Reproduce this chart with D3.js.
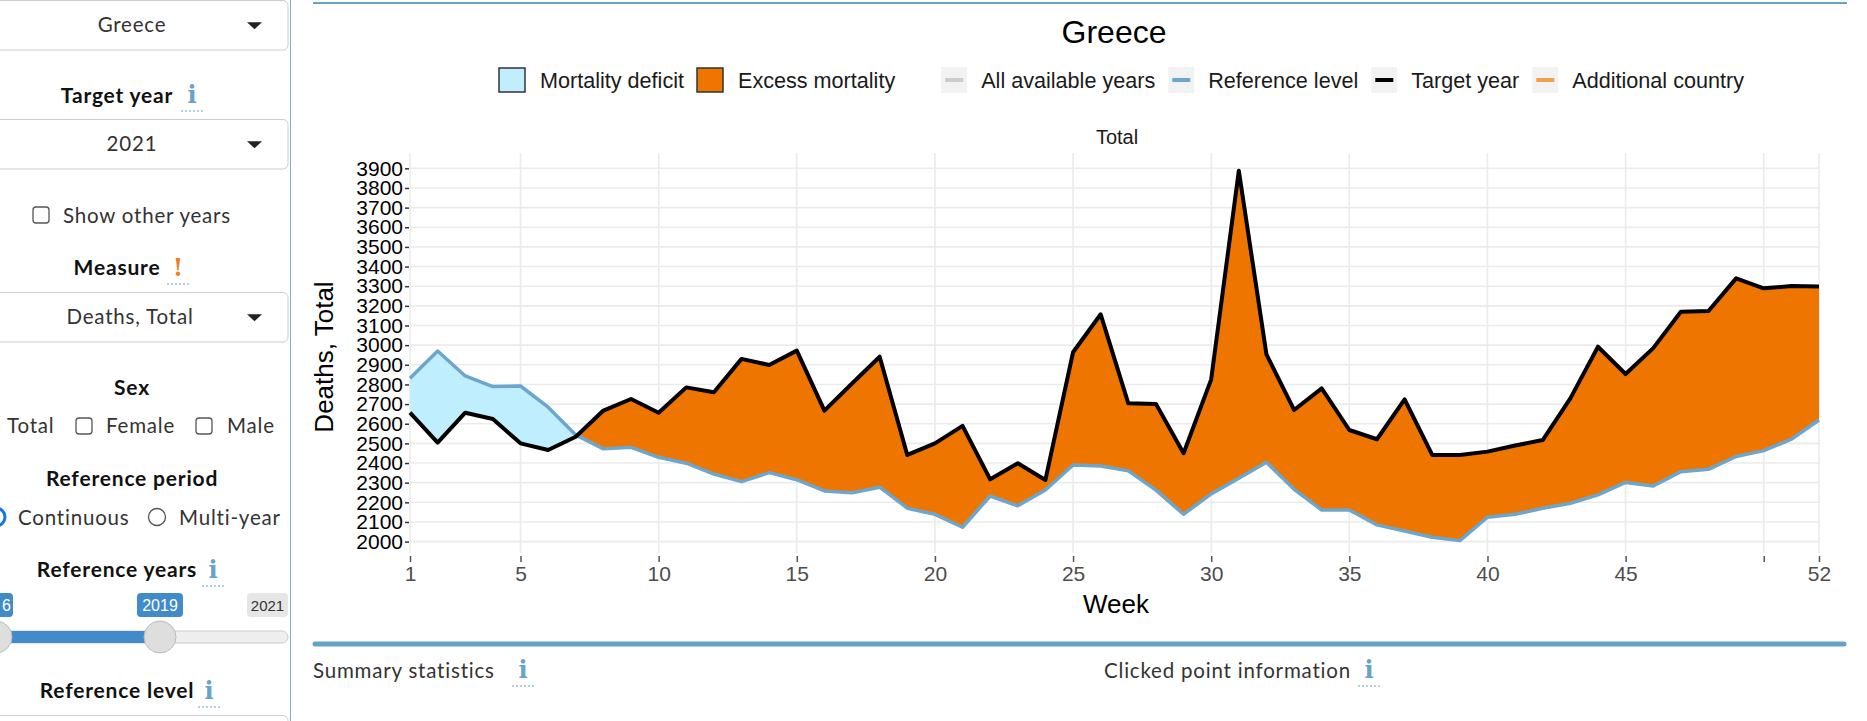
<!DOCTYPE html>
<html>
<head>
<meta charset="utf-8">
<script src="https://cdn.jsdelivr.net/npm/d3@7"></script>
<style>
  body { margin: 0; background: #fff; overflow: hidden; }
  svg text { font-family: "Liberation Sans", Arial, sans-serif; }
  svg text.ui { font-family: Lato, "Noto Sans", sans-serif; letter-spacing: 0.8px; }
  svg text.icon { font-family: "DejaVu Serif", serif; font-weight: bold; }
</style>
</head>
<body>
<script>
// weeks of the target year
var weeks = [1,2,3,4,5,6,7,8,9,10,11,12,13,14,15,16,17,18,19,20,21,22,23,24,25,26,
             27,28,29,30,31,32,33,34,35,36,37,38,39,40,41,42,43,44,45,46,47,48,49,50,51,52];

// deaths in target year 2021 (Greece, total)
var targetDeaths = [2656,2504,2656,2624,2500,2466,2534,2667,2726,2656,2785,2760,2930,2899,2972,2667,
                    2805,2941,2441,2500,2589,2317,2399,2314,2964,3157,2704,2701,2450,2826,3888,2953,
                    2670,2780,2568,2521,2724,2441,2441,2458,2489,2517,2729,2992,2853,2985,3170,3174,
                    3340,3289,3301,3298];

// reference level
var refLevel = [2831,2970,2843,2789,2792,2684,2543,2472,2480,2429,2399,2344,2305,2351,2315,2258,
                2249,2277,2170,2139,2073,2232,2182,2263,2390,2385,2360,2262,2139,2243,2322,2404,
                2266,2161,2161,2085,2054,2022,2005,2124,2139,2170,2195,2238,2301,2283,2356,2368,
                2433,2463,2521,2619];

var xTicks = [1,5,10,15,20,25,30,35,40,45,50,52];
var xTickLabels = ["1","5","10","15","20","25","30","35","40","45","","52"];
var yTicks = [2000,2100,2200,2300,2400,2500,2600,2700,2800,2900,3000,3100,3200,3300,3400,3500,3600,3700,3800,3900];

var fillLegend = ["Mortality deficit","Excess mortality"];
var lineLegend = ["All available years","Reference level","Target year","Additional country"];

var colDeficit = "#BFEFFF", colExcess = "#EE7600", colRef = "#6CA6CD",
    colAll = "#CCCCCC", colAdd = "#F0A050", accent = "#66A3C9";

var W = 1867, H = 721;
var svg = d3.select("body").append("svg").attr("width", W).attr("height", H);

// ---------------- sidebar ----------------
var side = svg.append("g");

function selectBox(y0, h, label, cx){
  side.append("rect").attr("x", -10).attr("y", y0).attr("width", 298).attr("height", h)
    .attr("rx", 5).attr("fill", "#fff").attr("stroke", "#ccc");
  side.append("text").attr("class", "ui").attr("x", cx).attr("y", y0 + h/2 + 7).attr("text-anchor", "middle")
    .attr("font-size", 20.5).attr("fill", "#333").text(label);
  var cy = y0 + h/2;
  side.append("path").attr("d", "M247," + (cy-3) + "L262," + (cy-3) + "L254.5," + (cy+4) + "Z").attr("fill", "#222");
}
function boldLabel(x, y, s){
  side.append("text").attr("class", "ui").attr("x", x).attr("y", y).attr("text-anchor", "middle")
    .attr("font-size", 21).attr("font-weight", "bold").attr("fill", "#111").text(s);
}
function infoIcon(g, x, y, ch, col){
  g.append("text").attr("class", "icon").attr("x", x).attr("y", y).attr("text-anchor", "middle")
    .attr("font-size", 24).attr("fill", col || accent).text(ch || "i");
  g.append("line").attr("x1", x - 11).attr("x2", x + 11).attr("y1", y + 8).attr("y2", y + 8)
    .attr("stroke", accent).attr("stroke-width", 1).attr("stroke-dasharray", "2,2");
}
function checkBox(x, y){
  side.append("rect").attr("x", x).attr("y", y).attr("width", 16).attr("height", 16).attr("rx", 3)
    .attr("fill", "#fff").attr("stroke", "#555").attr("stroke-width", 1.3);
}
function uiText(x, y, s){
  side.append("text").attr("class", "ui").attr("x", x).attr("y", y)
    .attr("font-size", 20.5).attr("fill", "#333").text(s);
}

selectBox(0.5, 49.5, "Greece", 132);
boldLabel(117, 103, "Target year"); infoIcon(side, 192, 103);
selectBox(119.5, 49.5, "2021", 132);
checkBox(33, 207); uiText(63, 223, "Show other years");
boldLabel(117, 275, "Measure"); infoIcon(side, 178, 276, "!", "#EF7D22");
selectBox(292.5, 49.5, "Deaths, Total", 130);
boldLabel(132, 395, "Sex");
uiText(7, 433, "Total");
checkBox(76, 418); uiText(106, 433, "Female");
checkBox(196, 418); uiText(227, 433, "Male");
boldLabel(132, 486, "Reference period");
side.append("circle").attr("cx", -4).attr("cy", 517).attr("r", 9).attr("fill", "#fff").attr("stroke", "#1A73E8").attr("stroke-width", 3);
side.append("circle").attr("cx", -4).attr("cy", 517).attr("r", 4).attr("fill", "#1A73E8");
uiText(18, 525, "Continuous");
side.append("circle").attr("cx", 157).attr("cy", 517).attr("r", 8.5).attr("fill", "#fff").attr("stroke", "#555").attr("stroke-width", 1.3);
uiText(179, 525, "Multi-year");
boldLabel(117, 577, "Reference years"); infoIcon(side, 213, 578);
// slider
side.append("rect").attr("x", -10).attr("y", 631).attr("width", 298).attr("height", 12).attr("rx", 6)
  .attr("fill", "#eee").attr("stroke", "#ccc");
side.append("rect").attr("x", -10).attr("y", 631).attr("width", 170).attr("height", 12).attr("fill", "#428BCA");
side.append("circle").attr("cx", -4).attr("cy", 637).attr("r", 16).attr("fill", "#dedede").attr("stroke", "#bbb");
side.append("circle").attr("cx", 160).attr("cy", 637).attr("r", 16).attr("fill", "#dedede").attr("stroke", "#bbb");
side.append("rect").attr("x", -40).attr("y", 593).attr("width", 53).attr("height", 24).attr("rx", 4).attr("fill", "#428BCA");
side.append("text").attr("x", 2).attr("y", 611).attr("font-size", 16).attr("fill", "#fff").text("6");
side.append("rect").attr("x", 137).attr("y", 593).attr("width", 46).attr("height", 24).attr("rx", 4).attr("fill", "#428BCA");
side.append("text").attr("x", 160).attr("y", 611).attr("text-anchor", "middle").attr("font-size", 16).attr("fill", "#fff").text("2019");
side.append("rect").attr("x", 247).attr("y", 593).attr("width", 41).attr("height", 24).attr("rx", 4).attr("fill", "#e6e6e6");
side.append("text").attr("x", 267.5).attr("y", 611).attr("text-anchor", "middle").attr("font-size", 15).attr("fill", "#333").text("2021");
boldLabel(117, 698, "Reference level"); infoIcon(side, 209, 699);
side.append("rect").attr("x", -10).attr("y", 715.5).attr("width", 298).attr("height", 40).attr("rx", 5)
  .attr("fill", "#fff").attr("stroke", "#ccc");
svg.append("line").attr("x1", 290.5).attr("x2", 290.5).attr("y1", 0).attr("y2", H)
  .attr("stroke", "#7FB0D6").attr("stroke-width", 1);

// ---------------- main panel ----------------
svg.append("line").attr("x1", 313).attr("x2", 1847).attr("y1", 3).attr("y2", 3)
  .attr("stroke", accent).attr("stroke-width", 2);

var x = d3.scaleLinear().domain([1, 52]).range([410, 1819]);
var y = d3.scaleLinear().domain([1942, 3978]).range([553, 153]);

svg.append("text").attr("x", 1114).attr("y", 43).attr("text-anchor", "middle")
  .attr("font-size", 32).attr("fill", "#000").text("Greece");

// legend
var lg = svg.append("g").attr("font-size", 21.6);
var lx = 499;
fillLegend.forEach(function(s, i){
  lg.append("rect").attr("x", lx).attr("y", 68).attr("width", 26).attr("height", 24)
    .attr("fill", i === 0 ? colDeficit : colExcess).attr("stroke", "#333").attr("stroke-width", 1.5);
  var t = lg.append("text").attr("x", lx + 41).attr("y", 88).attr("fill", "#1a1a1a").text(s);
  lx += 41 + t.node().getComputedTextLength() + 13;
});
lx += 33;
var lineCols = [colAll, colRef, "#000", colAdd];
lineLegend.forEach(function(s, i){
  lg.append("rect").attr("x", lx).attr("y", 67).attr("width", 26).attr("height", 26).attr("fill", "#F2F2F2");
  lg.append("line").attr("x1", lx + 4).attr("x2", lx + 22).attr("y1", 80).attr("y2", 80)
    .attr("stroke", lineCols[i]).attr("stroke-width", 4);
  var t = lg.append("text").attr("x", lx + 40).attr("y", 88).attr("fill", "#1a1a1a").text(s);
  lx += 40 + t.node().getComputedTextLength() + 13;
});

svg.append("text").attr("x", 1117).attr("y", 144).attr("text-anchor", "middle")
  .attr("font-size", 20).attr("fill", "#1a1a1a").text("Total");

// grid
svg.append("g").selectAll("line").data(yTicks).enter().append("line")
  .attr("x1", x(1)).attr("x2", x(52)).attr("y1", function(d){ return y(d); }).attr("y2", function(d){ return y(d); })
  .attr("stroke", "#EBEBEB").attr("stroke-width", 1.6);
svg.append("g").selectAll("line").data(xTicks).enter().append("line")
  .attr("x1", function(d){ return x(d); }).attr("x2", function(d){ return x(d); })
  .attr("y1", 153).attr("y2", 553)
  .attr("stroke", "#EBEBEB").attr("stroke-width", 1.6);

// split series where target crosses reference
var pts = [];
for (var i = 0; i < weeks.length; i++) {
  pts.push({w: weeks[i], t: targetDeaths[i], r: refLevel[i]});
  if (i < weeks.length - 1) {
    var d0 = targetDeaths[i] - refLevel[i], d1 = targetDeaths[i+1] - refLevel[i+1];
    if (d0 * d1 < 0) {
      var f = d0 / (d0 - d1);
      var v = targetDeaths[i] + f * (targetDeaths[i+1] - targetDeaths[i]);
      pts.push({w: weeks[i] + f * (weeks[i+1] - weeks[i]), t: v, r: v});
    }
  }
}

var excessArea = d3.area().x(function(d){ return x(d.w); })
  .y0(function(d){ return y(d.r); }).y1(function(d){ return y(Math.max(d.t, d.r)); });
var deficitArea = d3.area().x(function(d){ return x(d.w); })
  .y0(function(d){ return y(d.t); }).y1(function(d){ return y(Math.max(d.t, d.r)); });

svg.append("path").datum(pts).attr("d", deficitArea).attr("fill", colDeficit);
svg.append("path").datum(pts).attr("d", excessArea).attr("fill", colExcess);

var weekLine = d3.line().x(function(d, i){ return x(weeks[i]); }).y(function(d){ return y(d); });
svg.append("path").datum(refLevel).attr("d", weekLine).attr("fill", "none")
  .attr("stroke", colRef).attr("stroke-width", 3.5).attr("stroke-linejoin", "round");
svg.append("path").datum(targetDeaths).attr("d", weekLine).attr("fill", "none")
  .attr("stroke", "#000").attr("stroke-width", 4).attr("stroke-linejoin", "round");

// axes
var yAxis = d3.axisLeft(y).tickValues(yTicks).tickFormat(d3.format("d")).tickSize(4).tickPadding(2);
var yG = svg.append("g").attr("transform", "translate(409,0)").call(yAxis);
yG.select(".domain").remove();
yG.selectAll("text").attr("font-size", 21).attr("fill", "#000").attr("font-family", "Liberation Sans, Arial, sans-serif");
yG.selectAll("line").attr("stroke", "#333").attr("stroke-width", 1.5);

var xAxis = d3.axisBottom(x).tickValues(xTicks).tickFormat(function(d, i){ return xTickLabels[i]; })
  .tickSize(6).tickPadding(4);
var xG = svg.append("g").attr("transform", "translate(0,556)").call(xAxis);
xG.select(".domain").remove();
xG.selectAll("text").attr("font-size", 21).attr("fill", "#4D4D4D").attr("font-family", "Liberation Sans, Arial, sans-serif");
xG.selectAll("line").attr("stroke", "#555").attr("stroke-width", 1.5);

svg.append("text").attr("x", 1116).attr("y", 613).attr("text-anchor", "middle")
  .attr("font-size", 26).attr("fill", "#000").text("Week");
svg.append("text").attr("transform", "translate(333,357) rotate(-90)").attr("text-anchor", "middle")
  .attr("font-size", 26).attr("fill", "#000").text("Deaths, Total");

// bottom section
svg.append("line").attr("x1", 315).attr("x2", 1844).attr("y1", 644).attr("y2", 644)
  .attr("stroke", accent).attr("stroke-width", 5).attr("stroke-linecap", "round");
var bottom = svg.append("g");
bottom.append("text").attr("class", "ui").attr("x", 313).attr("y", 678).attr("font-size", 20.5).attr("fill", "#333").text("Summary statistics");
bottom.append("text").attr("class", "ui").attr("x", 1104).attr("y", 678).attr("font-size", 20.5).attr("fill", "#333").text("Clicked point information");
infoIcon(bottom, 523, 678);
infoIcon(bottom, 1369, 678);
</script>
</body>
</html>
